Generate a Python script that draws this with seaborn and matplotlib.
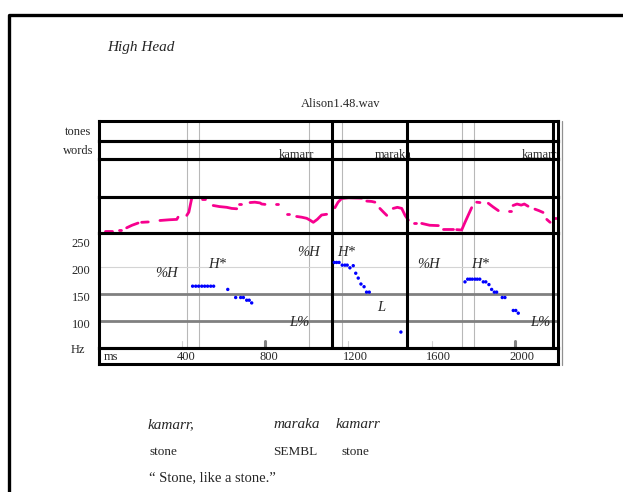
import numpy as np
import pandas as pd
import matplotlib
matplotlib.use("Agg")
import matplotlib.pyplot as plt
from matplotlib.lines import Line2D
import matplotlib.transforms as mtrans
import seaborn as sns

# ---------------- data ----------------
pitch_ms = [451, 466, 480, 495, 509, 523, 538, 552, 620, 658, 682, 695, 711, 723, 735,
            1132, 1143, 1155, 1170, 1183, 1194, 1207, 1223, 1235, 1247, 1260, 1275, 1287, 1300,
            1452,
            1760, 1773, 1784, 1795, 1808, 1819, 1831, 1848, 1860, 1875, 1888, 1901, 1912,
            1939, 1952, 1992, 2004, 2016]
pitch_hz = [165, 165, 165, 165, 165, 165, 165, 165, 159, 144, 144, 144, 139, 139, 134,
            209, 209, 209, 204, 204, 204, 199, 203, 189, 180, 169, 164, 154, 154,
            80,
            173, 178, 178, 178, 178, 178, 178, 173, 173, 168, 159, 154, 154,
            144, 144, 120, 120, 115]

contour_seg = [0, 0, 1, 1, 2, 2, 2, 3, 3, 4, 4, 4, 4, 5, 5, 5, 5, 6, 6,
               7, 7, 7, 7, 7, 8, 8, 9, 9, 9, 9, 9, 10, 10, 11, 11,
               12, 12, 12, 12, 12, 12, 12, 12, 13, 13, 13, 13, 13, 14, 14, 14,
               15, 15, 15, 16, 16, 16, 16, 16, 17, 17, 18, 18, 18, 19, 19,
               20, 20, 20, 20, 20, 21, 21, 22, 22, 22, 23, 23,
               24, 24, 24, 24, 24, 25, 25, 25, 26, 26, 27, 27]
contour_ms = [30, 64, 96, 106, 134, 160, 189, 206, 238, 294, 340, 375, 381, 423, 433, 441, 447, 495, 510,
              550, 580, 615, 639, 663, 674, 684, 727, 750, 775, 783, 799, 850, 860, 906, 916,
              951, 975, 999, 1015, 1031, 1050, 1071, 1095, 1135, 1150, 1167, 1200, 1264, 1288, 1312, 1327,
              1351, 1368, 1384, 1415, 1435, 1456, 1472, 1488, 1515, 1525, 1552, 1590, 1632, 1656, 1704,
              1720, 1744, 1760, 1780, 1792, 1816, 1832, 1872, 1895, 1920, 1971, 1981,
              1991, 2010, 2030, 2045, 2063, 2096, 2115, 2135, 2153, 2169, 2188, 2198]
contour_level = [7, 7, 9, 9, 15, 22, 28, 30, 31, 35, 37, 38, 44, 49, 58, 80, 96, 94, 94,
                 76, 73, 71, 68, 67, 81, 81, 84, 85, 83, 80, 79, 79, 79, 52, 52,
                 46, 44, 41, 36, 30, 38, 50, 52, 70, 85, 95, 97, 96, 88, 87, 85,
                 68, 58, 49, 68, 71, 68, 49, 36, 28, 28, 27, 22, 21, 13, 13,
                 10, 9, 30, 55, 70, 85, 84, 82, 72, 62, 62, 62,
                 76, 80, 77, 80, 74, 66, 62, 57, 38, 30, 41, 41]

tone_labels = ["%H", "H*", "%H", "L%", "H*", "L", "%H", "H*", "L%"]
tone_ms = [328, 571, 1006, 962, 1188, 1356, 1587, 1832, 2120]
tone_hz = [188, 206, 227, 98, 228, 126, 206, 206, 97]

word_labels = ["kamarr", "maraka", "kamarr"]
word_ms = [949, 1414, 2120]

boundary_ms = [1119, 1479, 2184]
guide_ms = [423, 483, 1012, 1167, 1744, 1805]
ms_ticks = [400, 800, 1200, 1600, 2000]
major_tick_ms = [800, 2000]
minor_tick_ms = [400, 1200, 1600]
hz_ticks = [100, 150, 200, 250]

# ---------------- style ----------------
sns.set_theme(style="white")
plt.rcParams["font.family"] = ["Liberation Serif", "DejaVu Serif"]

W, H = 623, 492
fig = plt.figure(figsize=(W / 100, H / 100), dpi=100)
fig.patch.set_facecolor("white")

LEFT_PX, RIGHT_PX = 98.75, 558.3
XMAX = 2208.4
SPINE_LW = 2.2
PINK = "#f7008e"
GUIDE = "#b8b8b8"


def row(top, bot):
    ax = fig.add_axes([LEFT_PX / W, 1 - bot / H, (RIGHT_PX - LEFT_PX) / W, (bot - top) / H])
    ax.set_xlim(0, XMAX)
    ax.set_xticks([])
    ax.set_yticks([])
    ax.set_facecolor("none")
    for s in ax.spines.values():
        s.set_visible(True)
        s.set_color("black")
        s.set_linewidth(SPINE_LW)
    return ax


ax_tones = row(121, 140.7)
ax_words = row(140.7, 158.7)
ax_blank = row(158.7, 196.7)
ax_cont = row(196.7, 233.3)
ax_pitch = row(233.3, 347.7)
ax_ms = row(347.7, 364)

for ax in [ax_tones, ax_words, ax_blank, ax_cont, ax_pitch]:
    for g in guide_ms:
        ax.axvline(g, color=GUIDE, lw=0.8, zorder=1)
    for b in boundary_ms:
        ax.axvline(b, color="black", lw=SPINE_LW, zorder=2.6)

# words row
for w, m in zip(word_labels, word_ms):
    ax_words.text(m, 0.02, w, transform=ax_words.get_xaxis_transform(), ha="center",
                  va="baseline", fontsize=9, zorder=1)

# contour row
ax_cont.set_ylim(0, 100)
cdf = pd.DataFrame({"seg": contour_seg, "ms": contour_ms, "level": contour_level})
sns.lineplot(data=cdf, x="ms", y="level", units="seg", estimator=None, color=PINK,
             lw=2.0, ax=ax_cont, legend=False, solid_capstyle="round")
ax_cont.set_xlabel("")
ax_cont.set_ylabel("")
ax_cont.set_xlim(0, XMAX)
ax_cont.set_ylim(0, 100)
ax_cont.set_xticks([])
ax_cont.set_yticks([])

# pitch row
ax_pitch.set_ylim(51, 263)
ax_pitch.axhline(200, color="#d4d4d4", lw=0.8, zorder=1)
ax_pitch.axhline(150, color="#808080", lw=2.0, zorder=1.5)
ax_pitch.axhline(100, color="#808080", lw=2.0, zorder=1.5)
for m in major_tick_ms:
    ax_pitch.axvline(m, ymin=0, ymax=0.055, color="#808080", lw=2.2, zorder=1.5)
for m in minor_tick_ms:
    ax_pitch.axvline(m, ymin=0, ymax=0.06, color="#d0d0d0", lw=0.8, zorder=1.5)
pdf = pd.DataFrame({"ms": pitch_ms, "hz": pitch_hz})
sns.scatterplot(data=pdf, x="ms", y="hz", color="#0000ff", s=6, edgecolor="none",
                ax=ax_pitch, legend=False, zorder=3)
ax_pitch.set_xlabel("")
ax_pitch.set_ylabel("")
ax_pitch.set_xlim(0, XMAX)
ax_pitch.set_ylim(51, 263)
ax_pitch.set_xticks([])
ax_pitch.set_yticks(hz_ticks)
ax_pitch.set_yticklabels([str(t) for t in hz_ticks], fontsize=9)
ax_pitch.tick_params(axis="y", length=0, pad=6)
for t in ax_pitch.get_yticklabels():
    t.set_transform(t.get_transform() + mtrans.ScaledTranslation(0, -0.025, fig.dpi_scale_trans))
for lab, m, hz in zip(tone_labels, tone_ms, tone_hz):
    ax_pitch.text(m, hz, lab, ha="center", va="center", fontsize=10.5, style="italic", zorder=4)

# ms row
off = mtrans.ScaledTranslation(-5.5 / 100, 0, fig.dpi_scale_trans)
for m in ms_ticks:
    ax_ms.text(m, 0.45, str(m), transform=ax_ms.get_xaxis_transform() + off,
               ha="left", va="center", fontsize=9)
ax_ms.text(5 / (RIGHT_PX - LEFT_PX), 0.45, "ms", transform=ax_ms.transAxes,
           ha="left", va="center", fontsize=9)

# figure-level labels
def fx(x):
    return x / W

def fy(y):
    return 1 - y / H

fig.text(fx(91.5), fy(131.7), "tones", ha="right", va="center", fontsize=9)
fig.text(fx(93.5), fy(150.7), "words", ha="right", va="center", fontsize=9)
fig.text(fx(78), fy(350), "Hz", ha="center", va="center", fontsize=9)
fig.text(fx(341), fy(104), "Alison1.48.wav", ha="center", va="center", fontsize=9)
fig.text(fx(107), fy(47), "High Head", ha="left", va="center", fontsize=11, style="italic")

fig.text(fx(148), fy(425), "kamarr,", ha="left", va="center", fontsize=11, style="italic")
fig.text(fx(273), fy(425), "maraka", ha="left", va="center", fontsize=11, style="italic")
fig.text(fx(336), fy(425), "kamarr", ha="left", va="center", fontsize=11, style="italic")
fig.text(fx(149), fy(452), "stone", ha="left", va="center", fontsize=9.5)
fig.text(fx(273), fy(452), "SEMBL", ha="left", va="center", fontsize=9.5)
fig.text(fx(341), fy(452), "stone", ha="left", va="center", fontsize=9.5)
fig.text(fx(149), fy(478), "\u201c Stone, like a stone.\u201d", ha="left", va="center", fontsize=10.5)

# outer frame (top + left) and panel shadow
fig.add_artist(Line2D([fx(8.5), fx(8.5), fx(623)], [fy(492), fy(14.5), fy(14.5)],
                      color="black", lw=2.4, transform=fig.transFigure))
fig.add_artist(Line2D([fx(561.8), fx(561.8)], [fy(121), fy(365)],
                      color="#909090", lw=0.9, transform=fig.transFigure))

fig.savefig("out.png", dpi=100, facecolor="white")
